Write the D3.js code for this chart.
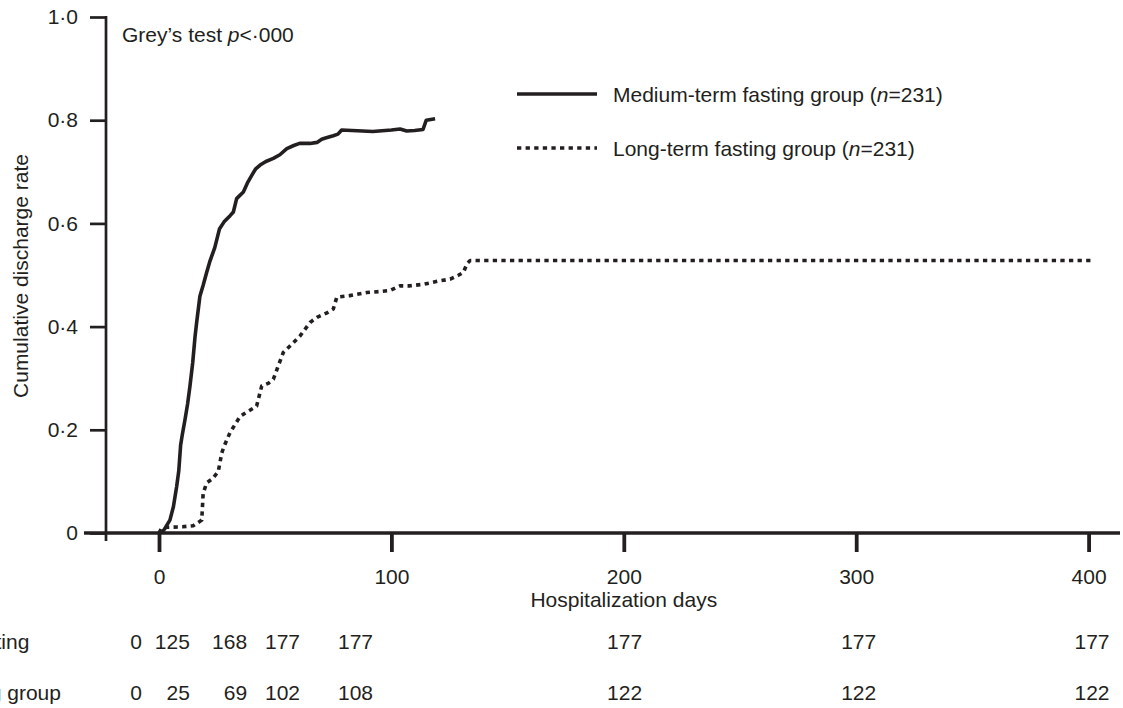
<!DOCTYPE html>
<html>
<head>
<meta charset="utf-8">
<script src="https://cdn.jsdelivr.net/npm/d3@7"></script>
<style>
	body { margin: 0; background: #fff; }
	svg { display: block; font-family: "Liberation Sans", Arial, sans-serif; }
	text { fill: #231f20; font-size: 21px; }
</style>
</head>
<body>
<svg id="chart" width="1123" height="708"></svg>
<script>
// cumulative discharge, medium-term fasting group (day, rate)
var mediumDays  = [0, 2, 4.7, 6.2, 7.6, 8.5, 9.3, 10, 11.2, 12.3, 13.3, 14.5, 15.5, 16.2, 17.6, 19, 20.5, 22, 24, 26, 28, 30.6, 32, 33.4, 36.3, 38, 39.9, 41.5, 43.5, 46, 49.2, 52, 55, 58, 60.5, 65, 68, 70, 72, 75, 77, 78.6, 83, 92, 100, 103.7, 106.6, 110, 113.6, 115, 118.8];
var mediumRates = [0, 0.005, 0.025, 0.051, 0.09, 0.12, 0.17, 0.19, 0.22, 0.25, 0.284, 0.33, 0.38, 0.408, 0.459, 0.48, 0.505, 0.528, 0.553, 0.589, 0.603, 0.615, 0.622, 0.648, 0.661, 0.678, 0.693, 0.705, 0.713, 0.72, 0.726, 0.733, 0.745, 0.751, 0.755, 0.755, 0.757, 0.763, 0.766, 0.77, 0.773, 0.781, 0.78, 0.778, 0.781, 0.783, 0.779, 0.78, 0.782, 0.8, 0.803];

// cumulative discharge, long-term fasting group (day, rate)
var longDays  = [0, 1, 3.3, 10, 14.7, 18.4, 19, 20.5, 23, 25.5, 27, 28, 30.6, 34.9, 38, 42, 44.2, 47, 49.2, 51, 53.5, 57, 60.7, 65, 68, 72, 75, 76.5, 82, 89.4, 95, 99.4, 103.7, 108, 113.8, 120, 125.3, 129, 131, 132.5, 133.9, 401.6];
var longRates = [0, 0.008, 0.011, 0.012, 0.014, 0.025, 0.077, 0.097, 0.105, 0.119, 0.155, 0.168, 0.195, 0.226, 0.235, 0.246, 0.285, 0.29, 0.298, 0.32, 0.35, 0.365, 0.382, 0.408, 0.418, 0.426, 0.434, 0.457, 0.46, 0.466, 0.468, 0.47, 0.479, 0.479, 0.482, 0.488, 0.492, 0.5, 0.505, 0.522, 0.528, 0.528];

// numbers under the plot
var tableLabels = ['Medium-term fasting', 'Long-term fasting group'];
var mediumCounts = [0, 125, 168, 177, 177, 177, 177, 177];
var longCounts   = [0, 25, 69, 102, 108, 122, 122, 122];
var tableCols    = [-7.3, 13.3, 37.9, 60.7, 92.1, 207.9, 308.6, 409]; // day position of each column's right edge

var xTicks = [0, 100, 200, 300, 400];
var yTicks = [0, 0.2, 0.4, 0.6, 0.8, 1.0];

var ink = '#231f20';
var svg = d3.select('#chart');

var x = d3.scaleLinear().domain([0, 400]).range([159, 1088.6]);
var y = d3.scaleLinear().domain([0, 1]).range([533, 17]);

// y axis
var yAxis = svg.append('g')
	.attr('transform', 'translate(106,0)')
	.call(d3.axisLeft(y).tickValues(yTicks).tickSize(16).tickPadding(12)
		.tickFormat(function(d){ return d === 0 ? '0' : d3.format('.1f')(d).replace('.', '\u00b7'); }));
yAxis.select('.domain').remove();
yAxis.selectAll('line').attr('stroke', ink).attr('stroke-width', 2.7);
yAxis.selectAll('text').attr('font-size', 21).attr('fill', ink).attr('font-family', null);
svg.append('line')
	.attr('x1', 106).attr('x2', 106).attr('y1', y(1) - 1).attr('y2', 541)
	.attr('stroke', ink).attr('stroke-width', 2.7);

// x axis
var xAxis = svg.append('g')
	.attr('transform', 'translate(0,533)')
	.call(d3.axisBottom(x).tickValues(xTicks).tickSize(19).tickPadding(17));
xAxis.select('.domain').remove();
xAxis.selectAll('line').attr('stroke', ink).attr('stroke-width', 3.8);
xAxis.selectAll('text').attr('font-size', 21).attr('fill', ink).attr('font-family', null);
svg.append('line')
	.attr('x1', 84).attr('x2', 1120).attr('y1', y(0)).attr('y2', y(0))
	.attr('stroke', ink).attr('stroke-width', 3.6);

// axis titles
svg.append('text')
	.attr('transform', 'translate(28,276) rotate(-90)')
	.attr('text-anchor', 'middle')
	.text('Cumulative discharge rate');
svg.append('text')
	.attr('x', x(200)).attr('y', 607)
	.attr('text-anchor', 'middle')
	.text('Hospitalization days');

// curves
var line = d3.line()
	.x(function(d){ return x(d[0]); })
	.y(function(d){ return y(d[1]); });

var series = [
	{ pts: d3.zip(mediumDays, mediumRates), dash: null },
	{ pts: d3.zip(longDays, longRates), dash: '4.3,4.3' }
];
series.forEach(function(s){
	svg.append('path')
		.attr('d', line(s.pts))
		.attr('fill', 'none')
		.attr('stroke', ink)
		.attr('stroke-width', 3.6)
		.attr('stroke-linejoin', 'round')
		.attr('stroke-dasharray', s.dash);
});

// test annotation
var note = svg.append('text').attr('x', 122).attr('y', 42);
note.append('tspan').text('Grey\u2019s test ');
note.append('tspan').attr('font-style', 'italic').text('p');
note.append('tspan').text('<\u00b7000');

// legend
var legend = [
	{ name: 'Medium-term fasting group (', dash: null },
	{ name: 'Long-term fasting group (', dash: '4.3,4.3' }
];
legend.forEach(function(d, i){
	var ly = 94 + i * 54;
	svg.append('line')
		.attr('x1', 517).attr('x2', 597).attr('y1', ly).attr('y2', ly)
		.attr('stroke', ink).attr('stroke-width', 3.6)
		.attr('stroke-dasharray', d.dash);
	var t = svg.append('text').attr('x', 613).attr('y', ly + 8);
	t.append('tspan').text(d.name);
	t.append('tspan').attr('font-style', 'italic').text('n');
	t.append('tspan').text('=231)');
});

// numbers table
[mediumCounts, longCounts].forEach(function(row, r){
	var ty = 649 + r * 51;
	svg.append('text')
		.attr('x', -162).attr('y', ty)
		.text(tableLabels[r]);
	svg.selectAll(null)
		.data(row)
		.enter().append('text')
		.attr('x', function(d, i){ return x(tableCols[i]); })
		.attr('y', ty)
		.attr('text-anchor', 'end')
		.text(function(d){ return d; });
});
</script>
</body>
</html>
